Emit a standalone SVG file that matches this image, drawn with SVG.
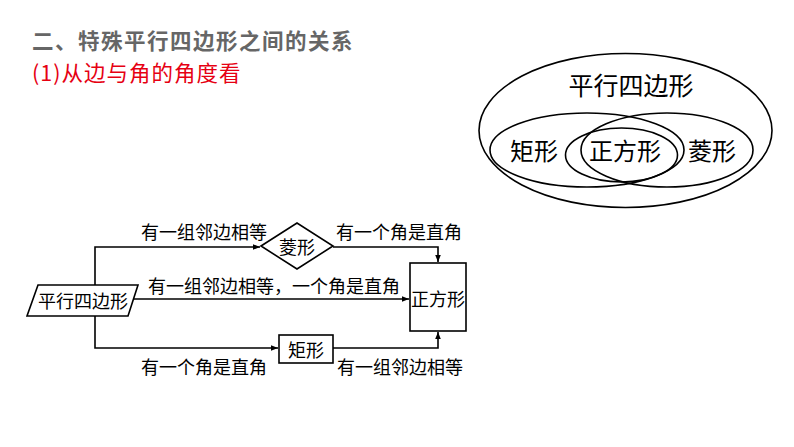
<svg xmlns="http://www.w3.org/2000/svg" width="794" height="447" viewBox="0 0 794 447">
<style>
.t{font-family:"Noto Sans CJK SC","Noto Sans",sans-serif;fill:#000;text-anchor:middle;dominant-baseline:central}
.f{font-size:18px}
.v{font-size:24px}
.s{fill:none;stroke:#000;stroke-width:1.6}
.n{fill:#fff;stroke:#000;stroke-width:1.6}
</style>
<defs>
<marker id="a" viewBox="0 0 10 10" refX="10" refY="5" markerWidth="7" markerHeight="7" orient="auto" markerUnits="userSpaceOnUse">
<path d="M0,1 L10,5 L0,9 Z" fill="#000"/>
</marker>
</defs>
<rect width="794" height="447" fill="#fff"/>
<text x="32" y="39" font-family="'Noto Sans CJK SC',sans-serif" font-size="21.5" font-weight="bold" letter-spacing="1.5" fill="#666" dominant-baseline="central">二、特殊平行四边形之间的关系</text>
<text x="32" y="71" font-family="'Noto Sans CJK SC',sans-serif" font-size="21.5" letter-spacing="1" fill="#e60012" dominant-baseline="central">(1)从边与角的角度看</text>

<g id="venn">
<ellipse cx="625.5" cy="130.5" rx="146.5" ry="77" class="s"/>
<ellipse cx="587" cy="150" rx="97" ry="37" class="s"/>
<ellipse cx="667" cy="150" rx="86" ry="37" class="s"/>
<ellipse cx="621.5" cy="155" rx="56" ry="27" class="s"/>
<text x="631" y="84" class="t" style="font-size:25px">平行四边形</text>
<text x="534" y="149" class="t v">矩形</text>
<text x="625" y="149" class="t v">正方形</text>
<text x="712" y="149" class="t v">菱形</text>
</g>

<g id="connectors">
<path d="M95,285 V247 H260" class="s" marker-end="url(#a)"/>
<path d="M333,247 H438 V262" class="s" marker-end="url(#a)"/>
<path d="M133,299 H409" class="s" marker-end="url(#a)"/>
<path d="M95,316 V348 H278" class="s" marker-end="url(#a)"/>
<path d="M333,348 H438 V332" class="s" marker-end="url(#a)"/>
<text x="204" y="231" class="t f">有一组邻边相等</text>
<text x="399" y="231" class="t f">有一个角是直角</text>
<text x="274" y="285" class="t f">有一组邻边相等，一个角是直角</text>
<text x="204" y="366" class="t f">有一个角是直角</text>
<text x="400" y="366" class="t f">有一组邻边相等</text>
</g>

<g id="parallelogram">
<path d="M38,285 H138 L128,316 H27 Z" class="n"/>
<text x="83" y="300" class="t f">平行四边形</text>
</g>
<g id="rhombus">
<path d="M261,246 L297,223 L333,246 L297,269 Z" class="n"/>
<text x="297" y="246" class="t f">菱形</text>
</g>
<g id="rectangle">
<rect x="279" y="335" width="54" height="28" class="n"/>
<text x="306" y="349" class="t f">矩形</text>
</g>
<g id="square">
<rect x="410" y="263" width="56" height="68" class="n"/>
<text x="438" y="298" class="t f">正方形</text>
</g>
</svg>
